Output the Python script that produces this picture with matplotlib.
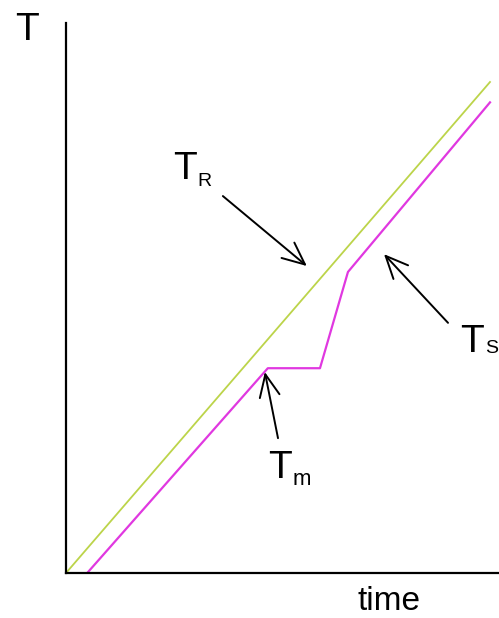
import matplotlib
matplotlib.use('Agg')
import matplotlib.pyplot as plt

plt.rcParams['font.family'] = ['Liberation Sans', 'DejaVu Sans']

# reference temperature T_R (straight ramp)
time_r = [0.0, 10.0]
temp_r = [0.0, 11.58]

# sample temperature T_S with melting plateau T_m
time_s = [0.50, 4.76, 5.99, 6.65, 10.0]
temp_s = [0.0, 4.83, 4.83, 7.10, 11.10]

# arrows: (tail, tip) in data units
arrow_r = ((3.70, 8.89), (5.68, 7.24))
arrow_s = ((9.01, 5.90), (7.50, 7.52))
arrow_m = ((5.00, 3.18), (4.69, 4.74))

W, H = 499, 618
fig = plt.figure(figsize = (W / 100, H / 100), dpi = 100)
ax = fig.add_axes([66 / W, (H - 573) / H, 1 - 66 / W, (573 - 23) / H])

ax.plot(time_r, temp_r, color = '#bcd44a', lw = 1.3)
ax.plot(time_s, temp_s, color = '#e038e0', lw = 1.6)

ax.set_xlim(0, (W - 66) / 42.4)
ax.set_ylim(0, (573 - 23) / 42.4)
ax.set_xticks([])
ax.set_yticks([])
for side in ['top', 'right']:
    ax.spines[side].set_visible(False)
for side in ['left', 'bottom']:
    ax.spines[side].set_linewidth(1.6)
    ax.spines[side].set_color('black')

for tail, tip in [arrow_r, arrow_s, arrow_m]:
    ax.annotate('', xy = tip, xytext = tail,
                arrowprops = dict(arrowstyle = '->, head_length=1.0, head_width=0.45',
                                  mutation_scale = 16, lw = 1.4, color = 'black',
                                  shrinkA = 0, shrinkB = 0))


def px_text(x, y, s, size):
    fig.text(x / W, 1 - y / H, s, fontsize = size, ha = 'left', va = 'baseline')


px_text(15, 40, 'T', 28)
px_text(173, 179, 'T', 28)
px_text(197, 186, 'R', 14)
px_text(460, 352, 'T', 28)
px_text(485, 353, 'S', 14)
px_text(268, 478, 'T', 28)
px_text(293, 485, 'm', 16)
px_text(357, 610, 'time', 24)

fig.savefig('out.png', dpi = 100)
